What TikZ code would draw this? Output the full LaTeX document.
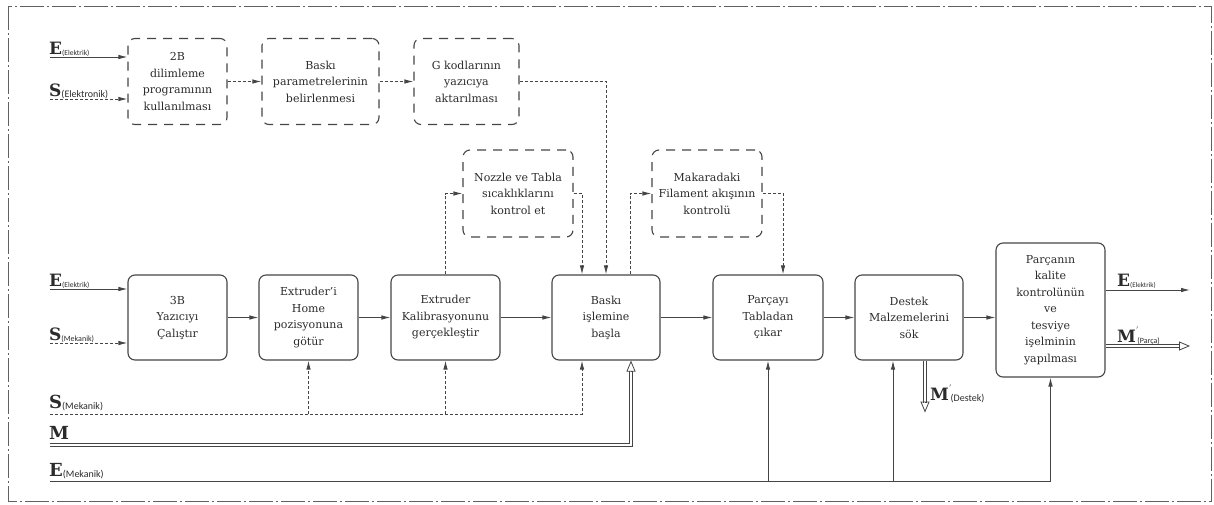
\documentclass[tikz,border=0pt]{standalone}
\usepackage{fontspec}
\setmainfont{DejaVu Serif}
\newfontfamily\subfont{Carlito}
\usetikzlibrary{arrows.meta,calc}
\definecolor{ln}{HTML}{454545}
\definecolor{tx}{HTML}{2B2B2B}
\newcommand{\boxfont}{\fontsize{11}{16.5}\selectfont}
\newcommand{\sig}[4]{{\fontsize{#4}{#4}\selectfont\bfseries #1}\raisebox{-1.5pt}{\subfont\fontsize{#3}{#3}\selectfont #2}}
\newcommand{\sigp}[4]{{\fontsize{#4}{#4}\selectfont\bfseries #1}\raisebox{-1.5pt}{\subfont\fontsize{#3}{#3}\selectfont\rlap{\raisebox{11pt}{\fontsize{7}{7}\selectfont$'$}}\,#2}}
\begin{document}
\begin{tikzpicture}[x=1pt,y=-1pt,
  box/.style={draw=ln, line width=1.1pt, rounded corners=7pt, align=center, inner sep=0pt, font=\boxfont, text=tx},
  dbox/.style={box, dash pattern=on 9pt off 7pt},
  conn/.style={draw=ln, line width=0.9pt, -{Latex[length=9pt,width=4.5pt]}},
  dconn/.style={conn, dash pattern=on 3pt off 2pt},
  dbl/.style={draw=ln, line width=0.7pt, double=white, double distance=2pt},
  opentip/.style={draw=ln, line width=0.8pt, -{Triangle[open,length=11pt,width=9pt]}},
  lbl/.style={inner sep=0pt, anchor=base west, text=tx},
  border/.style={draw=ln!85, line width=1pt, dash pattern=on 24pt off 3pt on 2pt off 3pt}
]
\useasboundingbox (0,0) rectangle (1214,504);
\draw[border] (8,6) rectangle (1211,501);

% top row
\node[dbox, minimum width=99pt, minimum height=86pt] (A) at (177.5,81.5) {2B\\dilimleme\\programının\\kullanılması};
\node[dbox, minimum width=117pt, minimum height=86pt] (B) at (320.5,81.5) {Baskı\\parametrelerinin\\belirlenmesi};
\node[dbox, minimum width=105pt, minimum height=86pt] (C) at (466.5,81.5) {G kodlarının\\yazıcıya\\aktarılması};
% middle dashed
\node[dbox, minimum width=110pt, minimum height=87pt] (N) at (518,193.5) {Nozzle ve Tabla\\sıcaklıklarını\\kontrol et};
\node[dbox, minimum width=110pt, minimum height=87pt] (F) at (707,193.5) {Makaradaki\\Filament akışının\\kontrolü};
% main row
\node[box, minimum width=99pt, minimum height=85pt] (b1) at (177.5,317.5) {3B\\Yazıcıyı\\Çalıştır};
\node[box, minimum width=99pt, minimum height=85pt] (b2) at (308.5,317.5) {Extruder'i\\Home\\pozisyonuna\\götür};
\node[box, minimum width=109pt, minimum height=85pt] (b3) at (445.5,317.5) {Extruder\\Kalibrasyonunu\\gerçekleştir};
\node[box, minimum width=108pt, minimum height=85pt] (b4) at (606,317.5) {Baskı\\işlemine\\başla};
\node[box, minimum width=110pt, minimum height=85pt] (b5) at (768,317.5) {Parçayı\\Tabladan\\çıkar};
\node[box, minimum width=108pt, minimum height=85pt] (b6) at (909,317.5) {Destek\\Malzemelerini\\sök};
\node[box, minimum width=109pt, minimum height=134pt] (b7) at (1050.5,310) {Parçanın\\kalite\\kontrolünün\\ve\\tesviye\\işelminin\\yapılması};

% free ends
\coordinate (eA) at (50,57);
\coordinate (sA) at (50,99);
\coordinate (e1) at (50,289);
\coordinate (s1) at (50,343);
\coordinate (sm) at (50,414);
\coordinate (mm) at (50,445);
\coordinate (em) at (50,481);
\coordinate (eo) at (1190,290);
\coordinate (mo) at (1190,346);
\coordinate (b4l) at ($(b4.south)+(-24,0)$);
\coordinate (b4r) at ($(b4.south)+(25,0)$);
\coordinate (b4tl) at ($(b4.north)+(-24,0)$);
\coordinate (b4tr) at ($(b4.north)+(24,0)$);
\coordinate (b5tr) at ($(b5.north)+(15,0)$);
\coordinate (b6l) at ($(b6.south)+(-16,0)$);
\coordinate (b6r) at ($(b6.south)+(16,0)$);
\coordinate (dend) at ($(b6r)+(0,52)$);

% top row connectors
\draw[conn] (eA) -- (eA -| A.west);
\draw[dconn] (sA) -- (sA -| A.west);
\draw[dconn] (A) -- (B);
\draw[dconn] (B) -- (C);
\draw[dconn] (C.east) -| (b4.north);

% middle dashed loops
\draw[dconn] (b3.north) |- (N.west);
\draw[dconn] (N.east) -| (b4tl);
\draw[dconn] (b4tr) |- (F.west);
\draw[dconn] (F.east) -| (b5tr);

% main row
\draw[conn] (e1) -- (e1 -| b1.west);
\draw[dconn] (s1) -- (s1 -| b1.west);
\draw[conn] (b1) -- (b2);
\draw[conn] (b2) -- (b3);
\draw[conn] (b3) -- (b4);
\draw[conn] (b4) -- (b5);
\draw[conn] (b5) -- (b6);
\draw[conn] (b6.east) -- (b6.east -| b7.west);

% outputs
\draw[conn] (b7.east |- eo) -- (eo);
\draw[dbl] (b7.east |- mo) -- ($(mo)+(-10,0)$);
\draw[opentip] ($(mo)+(-11,0)$) -- (mo);

% bottom signals
\draw[dconn] (sm) -| (b4l);
\draw[dconn] (b2.south |- sm) -- (b2.south);
\draw[dconn] (b3.south |- sm) -- (b3.south);
\draw[dbl] (mm) -| ($(b4r)+(0,10)$);
\draw[opentip] ($(b4r)+(0,11)$) -- (b4r);
\draw[conn] (em) -| (b7.south);
\draw[conn] (b5.south |- em) -- (b5.south);
\draw[conn] (b6l |- em) -- (b6l);
\draw[dbl] (b6r) -- ($(dend)+(0,-10)$);
\draw[opentip] ($(dend)+(0,-11)$) -- (dend);

% labels
\node[lbl] (LeA) at (49,54) {\sig{E}{(Elektrik)}{7.5}{17}};
\node[lbl] (LsA) at (49,96) {\sig{S}{(Elektronik)}{10}{17}};
\node[lbl] (Le1) at (49,286) {\sig{E}{(Elektrik)}{7.5}{17}};
\node[lbl] (Ls1) at (49,340) {\sig{S}{(Mekanik)}{8}{17}};
\node[lbl] (Lsm) at (49,408) {\sig{S}{(Mekanik)}{10}{18}};
\node[lbl] (Lmm) at (49,439) {\sig{M}{}{10}{18}};
\node[lbl] (Lem) at (49,476) {\sig{E}{(Mekanik)}{10}{18}};
\node[lbl] (Leo) at (1117,286) {\sig{E}{(Elektrik)}{7}{17}};
\node[lbl] (Lmo) at (1117,342) {\sigp{M}{(Parça)}{8}{17}};
\node[lbl] (Lmd) at (930,400) {\sigp{M}{(Destek)}{10}{17}};
\end{tikzpicture}
\end{document}
